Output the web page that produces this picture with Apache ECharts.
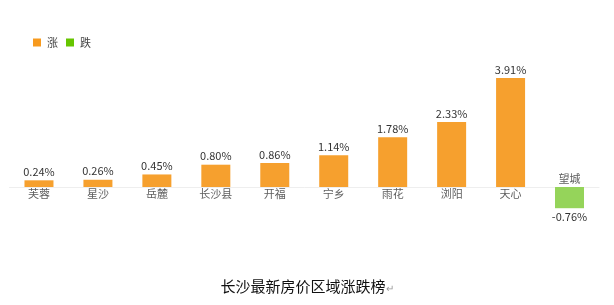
<!DOCTYPE html>
<html><head><meta charset="utf-8">
<script src="https://cdn.jsdelivr.net/npm/echarts@6/dist/echarts.min.js"></script>
<style>html,body{margin:0;padding:0;background:#fff}#c{width:614px;height:305px}</style>
</head><body><div id="c"></div>
<script>
const categories = ['芙蓉','星沙','岳麓','长沙县','开福','宁乡','雨花','浏阳','天心','望城'];
const values = [0.24,0.26,0.45,0.80,0.86,1.14,1.78,2.33,3.91,-0.76];
const legendNames = ['涨','跌'];
const titleText = '长沙最新房价区域涨跌榜';

const UP = '#F6A02E', DOWN = '#95D45A';
const FONT = '"Noto Sans CJK SC", "Noto Sans", sans-serif';

const upData = values.map(v => v >= 0 ? v : '-');
const downData = values.map(v => v < 0 ? {value: v, label: {position: 'bottom'}} : '-');
const nameData = values.map((v, i) => ({
  value: [i, 0],
  label: {position: v >= 0 ? 'bottom' : 'top', distance: v >= 0 ? 1 : 3}
}));

const chart = echarts.init(document.getElementById('c'), null, {renderer: 'canvas'});
chart.setOption({
  animation: false,
  textStyle: {fontFamily: FONT},
  title: {
    text: '{t|' + titleText + '}{r|↵}',
    left: 'center', top: 274,
    textStyle: {fontWeight: 'normal', rich: {t: {fontSize: 15, fontWeight: 'normal', color: '#111', fontFamily: FONT}, r: {fontSize: 10, color: '#999', padding: [4,0,0,0]}}}
  },
  legend: {
    data: [{name: legendNames[0], itemStyle: {color: '#F79A1E'}}, {name: legendNames[1], itemStyle: {color: '#66C500'}}],
    left: 28, top: 32, itemWidth: 8, itemHeight: 8, itemGap: 8,
    icon: 'rect',
    textStyle: {fontSize: 11, color: '#444', padding: [0,0,0,1]}
  },
  grid: {left: 9.5, right: 15, top: 61.5, bottom: 90.1, containLabel: false},
  xAxis: {
    type: 'category', data: categories,
    axisLine: {show: true, onZero: true, lineStyle: {color: '#EEEEEE', width: 1}},
    axisTick: {show: false}, axisLabel: {show: false}, splitLine: {show: false}
  },
  yAxis: {type: 'value', min: -1, max: 4.5, show: false, splitLine: {show: false}},
  series: [
    {
      name: legendNames[0], type: 'bar', data: upData, barWidth: 29, barGap: '-100%',
      itemStyle: {color: UP},
      label: {show: true, position: 'top', distance: 3, fontSize: 11, color: '#333', formatter: p => p.value.toFixed(2) + '%'}
    },
    {
      name: legendNames[1], type: 'bar', data: downData, barWidth: 29, barGap: '-100%',
      itemStyle: {color: DOWN},
      label: {show: true, position: 'bottom', distance: 3, fontSize: 11, color: '#333', formatter: p => p.value.toFixed(2) + '%'}
    },
    {
      type: 'scatter', data: nameData, symbolSize: 0, silent: true,
      label: {show: true, fontSize: 11, color: '#333', formatter: p => categories[p.dataIndex]}
    }
  ]
});
</script></body></html>
